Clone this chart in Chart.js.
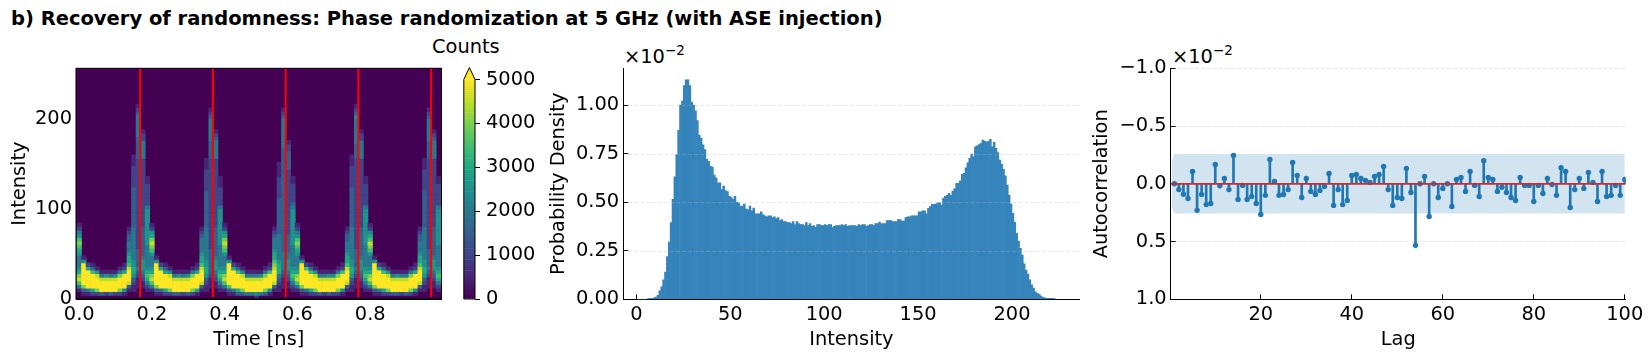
<!DOCTYPE html>
<html>
<head>
<meta charset="utf-8">
<title>Recovery of randomness</title>
<script src="https://cdn.jsdelivr.net/npm/chart.js@4"></script>
<style>
  html, body { margin: 0; background: #fff; }
  #page { position: relative; width: 1652px; height: 357px; overflow: hidden; font-family: "DejaVu Sans", sans-serif; color: #000; }
  #page canvas { position: absolute; }
  .txt { position: absolute; white-space: nowrap; line-height: 1; }
  .txt sup { font-size: 13.5px; vertical-align: baseline; position: relative; top: -8px; }
</style>
</head>
<body>
<div id="page">
  <div class="txt" style="left:11px;top:9px;font-size:19.5px;font-weight:bold">b) Recovery of randomness: Phase randomization at 5 GHz (with ASE injection)</div>
  <div class="txt" style="left:432px;top:37px;font-size:19.4px">Counts</div>
  <div class="txt" style="left:624px;top:47px;font-size:19.4px">×10<sup>−2</sup></div>
  <div class="txt" style="left:1172px;top:47px;font-size:19.4px">×10<sup>−2</sup></div>
  <canvas id="heat" width="455" height="307" style="left:0;top:50px"></canvas>
  <canvas id="cbar" width="85" height="307" style="left:455px;top:50px"></canvas>
  <canvas id="hist" width="555" height="307" style="left:545px;top:50px"></canvas>
  <canvas id="acf" width="567" height="307" style="left:1085px;top:50px"></canvas>
</div>
<script>
// heatmap: one string per time sample, one char per intensity bin (lowest first), in units of 500 counts (a = 5000+)
const sampleStep = 0.0125;
const binHeight = 4;
const heatColumns = [
  "0014798654445678754210", "0138aaaaaa51", "014aaaaa62", "026aaaa731", "028aaa951", "03aaa9410", "02aaa9510", "03aaa9410",
  "02aaa9510", "028aaa841", "015aaaa621", "00139aaa976654443321", "0011235665544444444433333333333222222111",
  "000111234333332222222222222222222222222333333444444321", "00011234555433333333222222222222222222244444221", "0012467654444445555555555422222211",
  "0014798654445789865210", "0138aaaaaa51", "014aaaaa62", "026aaaa631", "028aaa951", "03aaa9410", "03aaa9510", "02aaa9410",
  "03aaa9510", "028aaa841", "016aaaa621", "00139aaa976654444321", "0011235665544444444433333333332222221110",
  "000111233333332222222222222222222222222333334444443210", "00011234555433333333222222222222222222244444321", "0012467654444445555555555422222111",
  "0014798654445789865210", "0137aaaaaa51", "014aaaaa62", "036aaaa731", "038aaa951", "04aaa9410", "04aaa9410", "15aaa9410",
  "04aaa9510", "038aaa841", "015aaaa721", "00139aaa987665444321", "00112346665444444433333333332222221111",
  "00011123444443333333333333333333333333333344444444321", "00011234555443333322222222222222222233333221", "0012467654444445555555555432222211",
  "0014798654445678754210", "0138aaaaaa51", "014aaaaa72", "026aaaa731", "028aaa951", "03aaa9410", "02aaa9410", "03aaa9510",
  "02aaa9510", "028aaa841", "015aaaa721", "00139aaa976654443321", "0011235665544444444433333333333222222111",
  "000111234333332222222222222222222222222333344444445321", "00011234555433333333222222222222222222244444221", "0012467654444445555555555422222211",
  "0014798654445789765210", "0138aaaaaa51", "014aaaaa62", "026aaaa731", "028aaa951", "03aaa9410", "03aaa9510", "02aaa9410",
  "03aaa9410", "028aaa841", "015aaaa621", "00139aaa976654443321", "0011235665544444444433333333332222221110",
  "000111234333332222222222222222222222222333334444443210", "00011234555433333333222222222222222222244444321", "0012467654444445555555555422222211"
];
const pulseTimes = [0.1675, 0.3675, 0.5675, 0.7675, 0.9675];
const heatXTicks = [0, 0.2, 0.4, 0.6, 0.8];
const heatXLabels = ["0.0", "0.2", "0.4", "0.6", "0.8"];
const heatYTicks = [0, 100, 200];
const cbarTicks = [0, 1000, 2000, 3000, 4000, 5000];
const viridis = ["#440154", "#482475", "#414487", "#355f8d", "#2a788e", "#21918c", "#22a884", "#44bf70", "#7ad151", "#bddf26", "#fde725"];

// histogram, density x 1e-2, one value per unit intensity bin starting at 0
const histValues = [
  0, 0, 0, 0, 0, 0, .004, .004, .005, .007,
  .012, .020, .043, .064, .10, .14, .22, .295, .395, .515,
  .63, .745, .87, 1.0, 1.02, 1.10, 1.13, 1.13, 1.10, 1.015,
  1.0, .97, .92, .845, .83, .795, .77, .72, .71, .685,
  .68, .64, .625, .60, .60, .565, .583, .56, .555, .53,
  .525, .515, .53, .50, .495, .48, .48, .49, .465, .46,
  .48, .455, .47, .44, .44, .44, .45, .435, .43, .425,
  .43, .43, .42, .425, .415, .42, .405, .41, .40, .40,
  .395, .395, .39, .40, .385, .40, .39, .385, .385, .38,
  .395, .38, .39, .375, .38, .37, .385, .385, .38, .38,
  .385, .38, .385, .385, .37, .375, .38, .38, .38, .385,
  .38, .385, .375, .38, .38, .38, .38, .375, .385, .38,
  .385, .385, .375, .38, .385, .385, .38, .39, .39, .398,
  .39, .39, .39, .405, .405, .405, .40, .40, .40, .41,
  .41, .403, .403, .42, .424, .424, .43, .43, .43, .43,
  .45, .45, .455, .455, .44, .468, .477, .489, .489, .49,
  .497, .497, .485, .52, .53, .535, .545, .535, .557, .57,
  .597, .597, .61, .643, .648, .677, .703, .725, .748, .734,
  .785, .79, .797, .803, .82, .815, .811, .813, .823, .785,
  .808, .777, .755, .717, .696, .669, .635, .588, .537, .49,
  .443, .396, .34, .30, .262, .228, .182, .151, .13, .10,
  .074, .058, .039, .031, .026, .017, .01, .007, .005, .005,
  .005, .005, .004
];
const histXTicks = [0, 50, 100, 150, 200];
const histYTicks = [0, 0.25, 0.5, 0.75, 1];
const histYLabels = ["0.00", "0.25", "0.50", "0.75", "1.00"];

// autocorrelation x 1e-2, lags 1..100 (axis is inverted)
const acfValues = [
  0, .05, .09, .127, -.107, .23, .092, .18, .17, -.167,
  .017, -.046, .05, -.245, .135, .014, .135, .11, .17, .265,
  .10, -.21, -.02, .10, .092, .05, -.185, -.072, .118, -.046,
  .066, .092, .058, .023, -.09, .187, .05, .18, .144, -.072,
  -.08, -.046, -.03, -.012, -.063, -.08, -.15, .05, .187, .118,
  .127, -.133, .075, .533, 0, -.063, .283, 0, .118, .04,
  0, .196, -.037, -.055, .066, -.107, .014, .11, -.2, -.055,
  -.037, .066, .03, .075, .118, .144, -.055, .014, .014, .153,
  .014, .084, -.046, .006, .10, -.14, -.107, .205, .05, -.046,
  .04, -.098, -.012, .153, -.107, .11, .10, .014, .10, -.037
];
const bandLags = [0.4, 1, 100];
const bandHalfWidth = [0.2, 0.258, 0.258];
const acfXTicks = [20, 40, 60, 80, 100];
const acfYTicks = [-1, -0.5, 0, 0.5, 1];
const acfYLabels = ["−1.0", "−0.5", "0.0", "0.5", "1.0"];

Chart.defaults.font.family = "'DejaVu Sans'";
Chart.defaults.font.size = 19.4;
Chart.defaults.color = "#000";
Chart.defaults.animation = false;
Chart.defaults.responsive = false;
Chart.defaults.plugins.legend.display = false;
Chart.defaults.plugins.tooltip.enabled = false;

function viridisAt(count) {
  const t = Math.min(Math.max(count / 5000, 0), 1) * (viridis.length - 1);
  const i = Math.min(Math.floor(t), viridis.length - 2);
  const f = t - i;
  const a = parseInt(viridis[i].slice(1), 16), b = parseInt(viridis[i + 1].slice(1), 16);
  const mix = s => Math.round(((a >> s) & 255) * (1 - f) + ((b >> s) & 255) * f);
  return `rgb(${mix(16)},${mix(8)},${mix(0)})`;
}

// fixed axis box sizes so the plot areas land where they should
function pinBox(s, size) {
  if (s.isHorizontal()) s.height = size; else s.width = size;
  s.paddingTop = s.paddingBottom = s.paddingLeft = s.paddingRight = 0;
}
function xAxis(min, max, ticks, labels, height, title) {
  return {
    type: "linear", min, max, offset: false,
    afterFit: s => pinBox(s, height),
    afterBuildTicks: s => { s.ticks = ticks.map(v => ({ value: v })); },
    ticks: { padding: 9, maxRotation: 0, autoSkip: false, callback: (v, i) => labels[i] },
    grid: { offset: false, drawOnChartArea: false, tickLength: -5, tickColor: "#000" },
    border: { color: "#000", width: 1 },
    title: { display: true, text: title, padding: { top: 0, bottom: 5 } }
  };
}
function yAxis(min, max, ticks, labels, width, title, titlePad, dashed) {
  return {
    min, max,
    afterFit: s => pinBox(s, width),
    afterBuildTicks: s => { s.ticks = ticks.map(v => ({ value: v })); },
    ticks: { padding: 9, autoSkip: false, callback: (v, i) => labels[i] },
    grid: dashed
      ? { color: "rgba(176,176,176,0.3)", tickLength: -5, tickColor: "#000" }
      : { drawOnChartArea: false, tickLength: -5, tickColor: "#000" },
    border: dashed ? { color: "#000", width: 1, dash: [4, 2] } : { color: "#000", width: 1 },
    title: { display: true, text: title, padding: { top: titlePad, bottom: 0 } }
  };
}

const heatCells = [];
heatColumns.forEach((col, c) => {
  [...col].forEach((ch, r) => {
    const v = parseInt(ch, 16) * 500;
    if (v > 0) heatCells.push({ x: c * sampleStep, y: [r * binHeight, (r + 1) * binHeight], v });
  });
});
const pulsePoints = pulseTimes.flatMap(t => [{ x: t, y: 2 }, { x: t, y: 256 }, { x: t, y: null }]);

const heatFrame = {
  id: "heatFrame",
  beforeDatasetsDraw(chart) {
    const a = chart.chartArea, ctx = chart.ctx;
    ctx.save();
    ctx.fillStyle = viridis[0];
    ctx.fillRect(a.left, a.top, a.right - a.left, a.bottom - a.top);
    ctx.restore();
  },
  afterDraw(chart) {
    const a = chart.chartArea, ctx = chart.ctx;
    ctx.save();
    ctx.strokeStyle = "#000";
    ctx.strokeRect(a.left, a.top, a.right - a.left, a.bottom - a.top);
    ctx.restore();
  }
};

new Chart(document.getElementById("heat"), {
  type: "bar",
  data: {
    datasets: [
      { type: "line", data: pulsePoints, borderColor: "#ff0000", borderWidth: 2, pointRadius: 0, spanGaps: false, order: 1 },
      { data: heatCells, backgroundColor: c => viridisAt(c.raw ? c.raw.v : 0), barPercentage: 1, categoryPercentage: 1, order: 2 }
    ]
  },
  options: {
    layout: { padding: { left: 0, right: 13.5, top: 18.3, bottom: 0 } },
    scales: {
      x: xAxis(-0.009, 0.996, heatXTicks, heatXLabels, 58, "Time [ns]"),
      y: yAxis(0, 256, heatYTicks, heatYTicks.map(String), 76, "Intensity", 8, false)
    }
  },
  plugins: [heatFrame]
});

// colorbar: a column of thin floating bars on a real count scale
const cbarLevels = [];
for (let lo = 0; lo < 5000; lo += 50) cbarLevels.push(lo);
const cbarExtend = {
  id: "cbarExtend",
  afterDraw(chart) {
    const a = chart.chartArea, ctx = chart.ctx, y = chart.scales.y;
    const top = y.getPixelForValue(5000), bottom = y.getPixelForValue(0), mid = (a.left + a.right) / 2;
    ctx.save();
    ctx.beginPath();
    ctx.moveTo(a.left, top); ctx.lineTo(mid, a.top - 0.8); ctx.lineTo(a.right, top); ctx.closePath();
    ctx.fillStyle = viridis[10];
    ctx.fill();
    ctx.beginPath();
    ctx.moveTo(a.left, bottom); ctx.lineTo(a.left, top); ctx.lineTo(mid, a.top - 0.8); ctx.lineTo(a.right, top); ctx.lineTo(a.right, bottom); ctx.closePath();
    ctx.strokeStyle = "#000";
    ctx.stroke();
    ctx.restore();
  }
};
new Chart(document.getElementById("cbar"), {
  type: "bar",
  data: {
    datasets: [{
      data: cbarLevels.map(lo => ({ x: 0, y: [lo, lo + 50] })),
      backgroundColor: c => viridisAt(cbarLevels[c.dataIndex] + 25),
      barPercentage: 1, categoryPercentage: 1
    }]
  },
  options: {
    layout: { padding: { left: 8.8, right: 0, top: 18.3, bottom: 0 } },
    scales: {
      x: { type: "linear", min: -0.5, max: 0.5, offset: false, display: false, afterFit: s => pinBox(s, 58) },
      y: {
        position: "right", min: 0, max: 5256,
        afterFit: s => pinBox(s, 65),
        afterBuildTicks: s => { s.ticks = cbarTicks.map(v => ({ value: v })); },
        ticks: { padding: 6, autoSkip: false, callback: (v, i) => String(cbarTicks[i]) },
        grid: { drawOnChartArea: false, tickLength: 5, tickColor: "#000" },
        border: { display: false }
      }
    }
  },
  plugins: [cbarExtend]
});

// dashed grid sits on top of the bars in the histogram
const gridOverBars = {
  id: "gridOverBars",
  afterDatasetsDraw(chart) {
    const a = chart.chartArea, ctx = chart.ctx, y = chart.scales.y;
    ctx.save();
    ctx.strokeStyle = "rgba(176,176,176,0.3)";
    ctx.setLineDash([4, 2]);
    ctx.lineWidth = 1;
    y.ticks.forEach(t => {
      if (t.value === 0) return;
      const py = Math.round(y.getPixelForValue(t.value)) + 0.5;
      ctx.beginPath();
      ctx.moveTo(a.left + 5, py);
      ctx.lineTo(a.right, py);
      ctx.stroke();
    });
    ctx.restore();
  }
};
const histY = yAxis(0, 1.189, histYTicks, histYLabels, 78.2, "Probability Density", 2, false);
new Chart(document.getElementById("hist"), {
  type: "bar",
  data: {
    datasets: [{
      data: histValues.map((v, i) => ({ x: i + 0.5, y: v })),
      backgroundColor: "#3584bb", barPercentage: 1, categoryPercentage: 1
    }]
  },
  options: {
    layout: { padding: { left: 0, right: 20.4, top: 18.3, bottom: 0 } },
    scales: {
      x: xAxis(-7, 236, histXTicks, histXTicks.map(String), 57.7, "Intensity"),
      y: histY
    }
  },
  plugins: [gridOverBars]
});

const bandUpper = bandLags.map((x, i) => ({ x, y: -bandHalfWidth[i] }));
const bandLower = bandLags.map((x, i) => ({ x, y: bandHalfWidth[i] }));
new Chart(document.getElementById("acf"), {
  type: "bar",
  data: {
    datasets: [
      { type: "line", data: [{ x: 0.2, y: 0 }, { x: 100.2, y: 0 }], borderColor: "#d62728", borderWidth: 1.7, pointRadius: 0, order: 1 },
      { type: "line", data: acfValues.map((v, i) => ({ x: i + 1, y: v })), showLine: false, pointRadius: 2.7, pointBackgroundColor: "#1f77b4", pointBorderWidth: 0, order: 2 },
      { data: acfValues.map((v, i) => ({ x: i + 1, y: v })), backgroundColor: "#1f77b4", barThickness: 2, order: 3 },
      { type: "line", data: bandUpper, borderWidth: 0, pointRadius: 0, fill: "+1", backgroundColor: "rgba(31,119,180,0.2)", order: 4 },
      { type: "line", data: bandLower, borderWidth: 0, pointRadius: 0, order: 5 }
    ]
  },
  options: {
    layout: { padding: { left: 0, right: 26.3, top: 18.3, bottom: 0 } },
    scales: {
      x: xAxis(0.2, 100.2, acfXTicks, acfXTicks.map(String), 57.7, "Lag"),
      y: Object.assign(yAxis(-1, 1, acfYTicks, acfYLabels, 85.7, "Autocorrelation", 5, true), { reverse: true })
    }
  }
});
</script>
</body>
</html>
